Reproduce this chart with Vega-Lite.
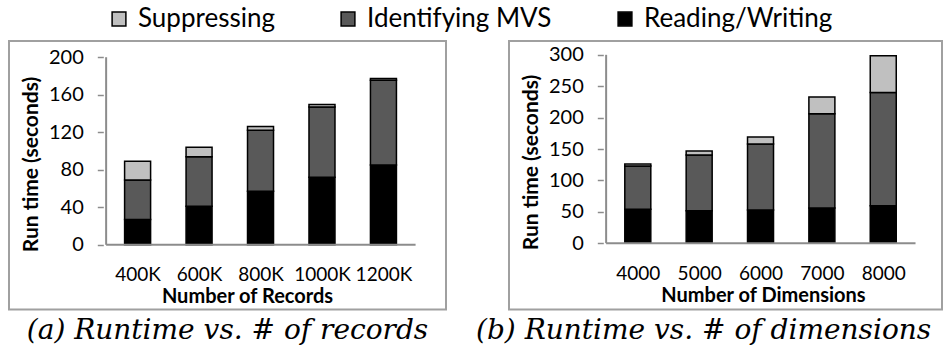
{
  "$schema": "https://vega.github.io/schema/vega-lite/v6.json",
  "padding": {"left": 8, "top": 6, "right": 0, "bottom": 0},
  "background": "white",
  "bounds": "flush",
  "spacing": 63,
  "datasets": {
    "records": [
      {"records": 400, "component": "Reading/Writing", "time": 27},
      {"records": 400, "component": "Identifying MVS", "time": 42},
      {"records": 400, "component": "Suppressing", "time": 20},
      {"records": 600, "component": "Reading/Writing", "time": 41},
      {"records": 600, "component": "Identifying MVS", "time": 53},
      {"records": 600, "component": "Suppressing", "time": 10},
      {"records": 800, "component": "Reading/Writing", "time": 57},
      {"records": 800, "component": "Identifying MVS", "time": 65},
      {"records": 800, "component": "Suppressing", "time": 4},
      {"records": 1000, "component": "Reading/Writing", "time": 72},
      {"records": 1000, "component": "Identifying MVS", "time": 75},
      {"records": 1000, "component": "Suppressing", "time": 2.5},
      {"records": 1200, "component": "Reading/Writing", "time": 85},
      {"records": 1200, "component": "Identifying MVS", "time": 90.5},
      {"records": 1200, "component": "Suppressing", "time": 1.8}
    ],
    "dims": [
      {"dims": 4000, "component": "Reading/Writing", "time": 54},
      {"dims": 4000, "component": "Identifying MVS", "time": 69},
      {"dims": 4000, "component": "Suppressing", "time": 3},
      {"dims": 5000, "component": "Reading/Writing", "time": 51.5},
      {"dims": 5000, "component": "Identifying MVS", "time": 89},
      {"dims": 5000, "component": "Suppressing", "time": 6.5},
      {"dims": 6000, "component": "Reading/Writing", "time": 53},
      {"dims": 6000, "component": "Identifying MVS", "time": 105},
      {"dims": 6000, "component": "Suppressing", "time": 11},
      {"dims": 7000, "component": "Reading/Writing", "time": 56},
      {"dims": 7000, "component": "Identifying MVS", "time": 150},
      {"dims": 7000, "component": "Suppressing", "time": 27},
      {"dims": 8000, "component": "Reading/Writing", "time": 59.5},
      {"dims": 8000, "component": "Identifying MVS", "time": 180.5},
      {"dims": 8000, "component": "Suppressing", "time": 58.5}
    ]
  },
  "hconcat": [
    {
      "width": 437,
      "height": 268.5,
      "title": {"text": "(a) Runtime vs. # of records", "orient": "bottom", "anchor": "middle", "frame": "group", "font": "DejaVu Serif", "fontStyle": "italic", "fontWeight": "normal", "fontSize": 28, "offset": 7, "color": "black"},
      "layer": [
        {
          "data": {"name": "records"},
          "transform": [{"calculate": "indexof(['Reading/Writing','Identifying MVS','Suppressing'], datum.component)", "as": "stackOrder"}],
          "mark": {"type": "bar", "size": 26, "stroke": "black", "strokeWidth": 1.5},
          "encoding": {
            "x": {"field": "records", "type": "quantitative", "scale": {"domain": [-2.2, 1387.3], "nice": false, "zero": false},
              "axis": {"values": [400, 600, 800, 1000, 1200], "labelExpr": "datum.value + 'K'", "offset": -64.7, "domain": false, "ticks": false, "grid": false, "labelPadding": 21, "labelOverlap": false, "labelFlush": false, "labelFont": "Lato", "labelFontSize": 19, "labelColor": "black", "title": "Number of Records", "titleFont": "Lato", "titleFontWeight": "bold", "titleFontSize": 20, "titleColor": "black", "titlePadding": 2, "titleX": 238}},
            "y": {"field": "time", "type": "quantitative", "stack": "zero", "scale": {"domain": [-69, 217.3], "nice": false, "zero": false},
              "axis": {"values": [0, 40, 80, 120, 160, 200], "offset": -94.3, "domain": false, "grid": false, "ticks": true, "tickSize": 6, "tickColor": "#8c8c8c", "tickWidth": 1.5, "labelPadding": 14, "labelFont": "Lato", "labelFontSize": 20, "labelColor": "black", "title": "Run time (seconds)", "titleFont": "Lato", "titleFontWeight": "bold", "titleFontSize": 21, "titleColor": "black", "titleX": -66, "titleY": 123, "titleBaseline": "alphabetic"}},
            "color": {"field": "component", "type": "nominal",
              "scale": {"domain": ["Suppressing", "Identifying MVS", "Reading/Writing"], "range": ["#c0c0c0", "#595959", "#000000"]},
              "legend": {"orient": "none", "legendX": 97, "legendY": -35, "direction": "horizontal", "title": null, "padding": 0, "symbolType": "square", "symbolSize": 190, "symbolStrokeColor": "black", "symbolStrokeWidth": 1.5, "labelFont": "Lato", "labelFontSize": 26, "labelColor": "black", "labelOffset": 6, "columnPadding": 60, "labelLimit": 400}},
            "order": {"field": "stackOrder", "type": "quantitative"}
          }
        },
        {
          "data": {"values": [{}]},
          "mark": {"type": "rule", "color": "#8c8c8c", "strokeWidth": 2},
          "encoding": {"x": {"datum": 297.6}, "x2": {"datum": 1304.6}, "y": {"datum": 0}}
        },
        {
          "data": {"values": [{}]},
          "mark": {"type": "rule", "color": "#8c8c8c", "strokeWidth": 2},
          "encoding": {"x": {"datum": 297.6}, "y": {"datum": 0}, "y2": {"datum": 200}}
        }
      ]
    },
    {
      "width": 433,
      "height": 268.5,
      "title": {"text": "(b) Runtime vs. # of dimensions", "orient": "bottom", "anchor": "start", "frame": "group", "dx": -33, "font": "DejaVu Serif", "fontStyle": "italic", "fontWeight": "normal", "fontSize": 28, "offset": 7, "color": "black"},
      "layer": [
        {
          "data": {"name": "dims"},
          "transform": [{"calculate": "indexof(['Reading/Writing','Identifying MVS','Suppressing'], datum.component)", "as": "stackOrder"}],
          "mark": {"type": "bar", "size": 26, "stroke": "black", "strokeWidth": 1.5},
          "encoding": {
            "x": {"field": "dims", "type": "quantitative", "scale": {"domain": [1982.5, 8876], "nice": false, "zero": false},
              "axis": {"values": [4000, 5000, 6000, 7000, 8000], "format": "d", "offset": -66.3, "domain": false, "ticks": false, "grid": false, "labelPadding": 21, "labelOverlap": false, "labelFlush": false, "labelFont": "Lato", "labelFontSize": 19, "labelColor": "black", "title": "Number of Dimensions", "titleFont": "Lato", "titleFontWeight": "bold", "titleFontSize": 20, "titleColor": "black", "titlePadding": 2, "titleX": 254}},
            "y": {"field": "time", "type": "quantitative", "stack": "zero", "scale": {"domain": [-105.6, 322], "nice": false, "zero": false},
              "axis": {"values": [0, 50, 100, 150, 200, 250, 300], "offset": -94.3, "domain": false, "grid": false, "ticks": true, "tickSize": 6, "tickColor": "#8c8c8c", "tickWidth": 1.5, "labelPadding": 14, "labelFont": "Lato", "labelFontSize": 20, "labelColor": "black", "title": "Run time (seconds)", "titleFont": "Lato", "titleFontWeight": "bold", "titleFontSize": 21, "titleColor": "black", "titleX": -66, "titleY": 121, "titleBaseline": "alphabetic"}},
            "color": {"field": "component", "type": "nominal",
              "scale": {"domain": ["Suppressing", "Identifying MVS", "Reading/Writing"], "range": ["#c0c0c0", "#595959", "#000000"]},
              "legend": {"orient": "none", "legendX": 97, "legendY": -35, "direction": "horizontal", "title": null, "padding": 0, "symbolType": "square", "symbolSize": 190, "symbolStrokeColor": "black", "symbolStrokeWidth": 1.5, "labelFont": "Lato", "labelFontSize": 26, "labelColor": "black", "labelOffset": 6, "columnPadding": 60, "labelLimit": 400}},
            "order": {"field": "stackOrder", "type": "quantitative"}
          }
        },
        {
          "data": {"values": [{}]},
          "mark": {"type": "rule", "color": "#8c8c8c", "strokeWidth": 2},
          "encoding": {"x": {"datum": 3484}, "x2": {"datum": 8526}, "y": {"datum": 0}}
        },
        {
          "data": {"values": [{}]},
          "mark": {"type": "rule", "color": "#8c8c8c", "strokeWidth": 2},
          "encoding": {"x": {"datum": 3484}, "y": {"datum": 0}, "y2": {"datum": 300}}
        }
      ]
    }
  ],
  "resolve": {"scale": {"color": "shared"}},
  "config": {
    "view": {"stroke": "#a0a0a0", "strokeWidth": 2},
    "axis": {"labelFont": "Lato", "titleFont": "Lato"},
    "legend": {"labelFont": "Lato"}
  }
}
